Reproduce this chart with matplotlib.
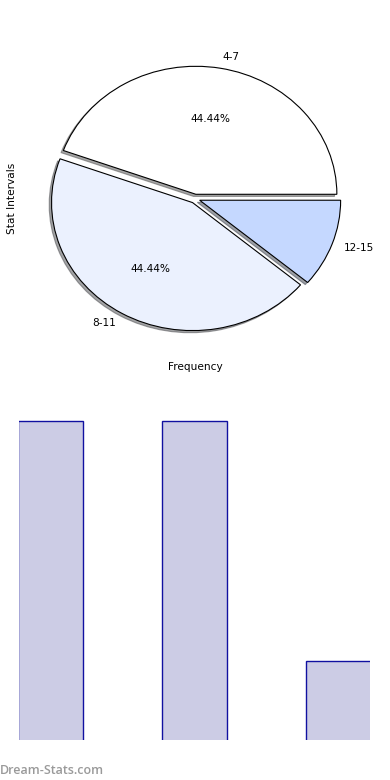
import matplotlib
matplotlib.use("Agg")
import matplotlib.pyplot as plt

# data
intervals = ['4-7', '8-11', '12-15']
frequency = [4, 4, 1]
pie_colors = ['#ffffff', '#ebf1fe', '#c5d8ff']
explode = [0.035, 0.035, 0.035]

W, H = 390, 780
fig = plt.figure(figsize=(W / 100, H / 100), dpi=100)


def px_axes(left, top, right, bottom):
    return fig.add_axes([left / W, 1 - bottom / H, (right - left) / W, (bottom - top) / H])


# Pie chart
ax1 = px_axes(18.75, 38.7, 371.25, 358.7)
ax1.pie(frequency, labels=intervals, colors=pie_colors, explode=explode,
        startangle=0, shadow={'ox': -0.012, 'oy': -0.012},
        labeldistance=1.09,
        autopct=lambda p: f'{p:.2f}%' if p > 20 else '',
        wedgeprops={'edgecolor': 'black', 'linewidth': 0.8},
        textprops={'fontsize': 7.6})
ax1.set_aspect('auto')
ax1.set_xlim(-1.25, 1.25)
ax1.set_ylim(-1.25, 1.25)
ax1.set_xlabel('Frequency', fontsize=7.6, labelpad=2.5)
ax1.set_ylabel('Stat Intervals', fontsize=7.6, labelpad=1.5)

# Bar chart
ax2 = px_axes(19, 419.4, 370, 740)
x = range(len(frequency))
ax2.bar(x, frequency, width=0.45, color='navy', alpha=0.2)
ax2.bar(x, frequency, width=0.45, fill=False, edgecolor='#1010a0', linewidth=1)
ax2.set_xlim(-0.218, 2.218)
ax2.set_ylim(0.012, 4.02)
ax2.axis('off')

fig.text(0 / W, 1 - 770 / H, 'Dream-Stats.com', fontsize=9, fontweight='semibold',
         family='Open Sans', color='#9a9a9a', ha='left', va='center')

fig.savefig('out.png', dpi=100)
